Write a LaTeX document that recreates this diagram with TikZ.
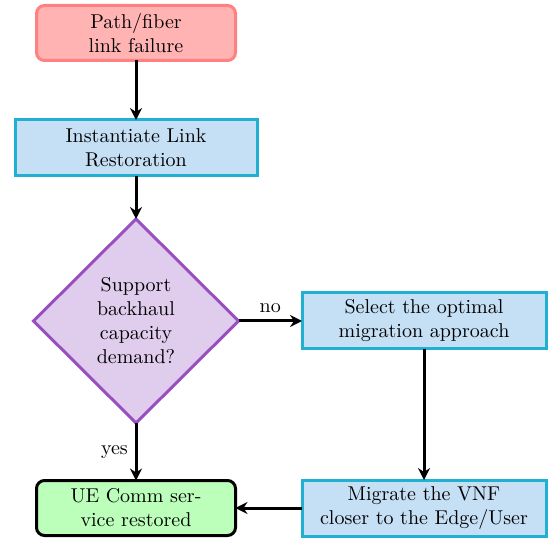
\documentclass[tikz,border=0pt]{standalone}
\usetikzlibrary{shapes.geometric,arrows.meta}
\definecolor{startfill}{HTML}{FFB3B3}
\definecolor{startdraw}{HTML}{FF8080}
\definecolor{procfill}{HTML}{C5DFF5}
\definecolor{procdraw}{HTML}{22B0D2}
\definecolor{decfill}{HTML}{E0CCEC}
\definecolor{decdraw}{HTML}{9850C0}
\definecolor{endfill}{HTML}{BBFFBB}
\tikzset{
  px/.style={x=0.5pt,y=-0.5pt},
  base/.style={align=center,inner sep=2pt,outer sep=0pt,line width=1.5pt},
  startbox/.style={base,rectangle,rounded corners=4pt,fill=startfill,draw=startdraw,minimum width=99.5pt,minimum height=27.5pt},
  procbox/.style={base,rectangle,fill=procfill,draw=procdraw,minimum height=28pt},
  decbox/.style={base,diamond,aspect=1,inner sep=0pt,fill=decfill,draw=decdraw,minimum width=102.5pt,minimum height=102pt},
  endbox/.style={base,rectangle,rounded corners=4pt,fill=endfill,draw=black,minimum width=99.5pt,minimum height=27.5pt},
  conn/.style={line width=1.5pt,-{Stealth[length=6pt,width=6pt,inset=2pt]}}
}
\begin{document}
\begin{tikzpicture}[px]
\useasboundingbox (0,0) rectangle (551,539);
\node[startbox] (fail) at (136,33) {Path/fiber\\link failure};
\node[procbox,minimum width=121pt] (inst) at (136,148) {Instantiate Link\\Restoration};
\node[decbox] (dec) at (136,321) {Support\\backhaul\\capacity\\demand?};
\node[procbox,minimum width=122pt] (sel) at (424,321) {Select the optimal\\migration approach};
\node[procbox,minimum width=122pt] (mig) at (424,508) {Migrate the VNF\\closer to the Edge/User};
\node[endbox] (ue) at (136,508) {UE Comm ser-\\vice restored};
\draw[conn] (fail) -- (inst);
\draw[conn] (inst) -- (dec);
\draw[conn] (dec) -- node[above] (no) {no} (sel);
\draw[conn] (dec) -- node[left] (yes) {yes} (ue);
\draw[conn] (sel) -- (mig);
\draw[conn] (mig) -- (ue);
\end{tikzpicture}
\end{document}
